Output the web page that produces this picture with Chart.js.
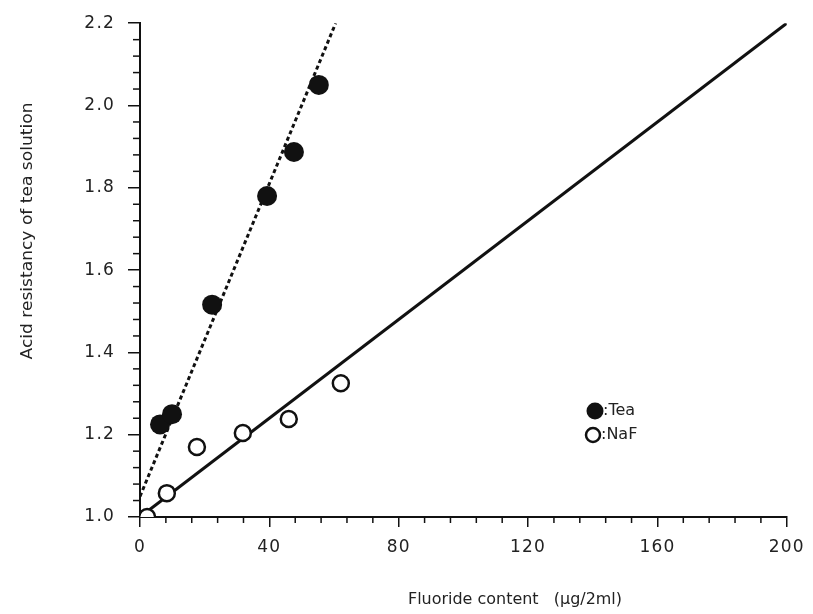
<!DOCTYPE html>
<html>
<head>
<meta charset="utf-8">
<script src="https://cdn.jsdelivr.net/npm/chart.js@4"></script>
<style>
  html, body { margin: 0; padding: 0; background: #fff; }
  #wrap { width: 813px; height: 614px; }
</style>
</head>
<body>
<div id="wrap"><canvas id="chart"></canvas></div>
<script>
// Dados
const teaX = [6.2, 9.9, 22.3, 39.3, 47.6, 55.3];
const teaY = [1.225, 1.25, 1.516, 1.78, 1.887, 2.05];
const nafX = [2.2, 8.3, 17.6, 31.8, 46.0, 62.1];
const nafY = [1.0, 1.058, 1.17, 1.204, 1.238, 1.325];

// Retas de regressão (extremos)
const teaFitX = [0, 60.5];
const teaFitY = [1.05, 2.2];
const nafFitX = [0, 200];
const nafFitY = [1.0, 2.2];

const xLabels = ["0", "40", "80", "120", "160", "200"];
const yLabels = ["1.0", "1.2", "1.4", "1.6", "1.8", "2.0", "2.2"];
const legendLabels = [":Tea", ":NaF"];

const FONT = "'DejaVu Sans', sans-serif";
const INK = "#111";
const TEXT = "#222";

function toPoints(xs, ys) {
    return xs.map((x, i) => ({ x: x, y: ys[i] }));
}

// texto esticado na horizontal até a largura pedida
function drawStretched(ctx, text, cx, cy, width) {
    const w = ctx.measureText(text).width;
    ctx.save();
    ctx.translate(cx, cy);
    ctx.scale(width / w, 1);
    ctx.fillText(text, 0, 0);
    ctx.restore();
}

// ticks menores, títulos dos eixos e legenda
const extras = {
    id: "extras",
    beforeDraw(chart) {
        chart.ctx.letterSpacing = "1.2px";
    },
    afterDraw(chart) {
        const ctx = chart.ctx;
        const xs = chart.scales.x, ys = chart.scales.y;
        const area = chart.chartArea;
        ctx.save();
        ctx.letterSpacing = "0px";
        ctx.strokeStyle = INK;
        ctx.lineWidth = 1.5;
        // minor ticks x (passo 8)
        for (let v = 0; v <= 200; v += 8) {
            if (v % 40 === 0) continue;
            const px = xs.getPixelForValue(v);
            ctx.beginPath();
            ctx.moveTo(px, area.bottom);
            ctx.lineTo(px, area.bottom + 6);
            ctx.stroke();
        }
        // minor ticks y (passo 0.04)
        for (let i = 0; i <= 30; i++) {
            if (i % 5 === 0) continue;
            const py = ys.getPixelForValue(1 + i * 0.04);
            ctx.beginPath();
            ctx.moveTo(area.left, py);
            ctx.lineTo(area.left - 7, py);
            ctx.stroke();
        }
        // títulos
        ctx.fillStyle = TEXT;
        ctx.font = "16px " + FONT;
        ctx.textAlign = "center";
        ctx.textBaseline = "middle";
        drawStretched(ctx, "Fluoride content   (\u00b5g/2ml)", 515, 600, 214);
        ctx.save();
        ctx.translate(28, 231);
        ctx.rotate(-Math.PI / 2);
        drawStretched(ctx, "Acid resistancy of tea solution", 0, 0, 257);
        ctx.restore();
        // legenda
        ctx.fillStyle = INK;
        ctx.beginPath();
        ctx.arc(595, 411, 8.5, 0, Math.PI * 2);
        ctx.fill();
        ctx.fillStyle = "#fff";
        ctx.lineWidth = 2.5;
        ctx.beginPath();
        ctx.arc(593, 435, 7, 0, Math.PI * 2);
        ctx.fill();
        ctx.stroke();
        ctx.fillStyle = TEXT;
        ctx.textAlign = "left";
        ctx.font = "16px " + FONT;
        ctx.fillText(legendLabels[0], 603, 411);
        ctx.fillText(legendLabels[1], 601, 435);
        ctx.restore();
    }
};

new Chart(document.getElementById("chart"), {
    type: "scatter",
    data: {
        datasets: [
            {
                label: "Tea fit",
                data: toPoints(teaFitX, teaFitY),
                showLine: true,
                borderColor: INK,
                borderWidth: 3,
                borderDash: [4, 3],
                pointRadius: 0,
                order: 2
            },
            {
                label: "NaF fit",
                data: toPoints(nafFitX, nafFitY),
                showLine: true,
                borderColor: INK,
                borderWidth: 3,
                pointRadius: 0,
                order: 2
            },
            {
                label: "Tea",
                data: toPoints(teaX, teaY),
                backgroundColor: INK,
                borderColor: INK,
                pointRadius: 10,
                borderWidth: 0,
                order: 0
            },
            {
                label: "NaF",
                data: toPoints(nafX, nafY),
                backgroundColor: "#fff",
                borderColor: INK,
                pointRadius: 8,
                borderWidth: 2.5,
                order: 1
            }
        ]
    },
    options: {
        responsive: true,
        maintainAspectRatio: false,
        animation: false,
        layout: { padding: { left: 50, right: 26, top: 22, bottom: 62 } },
        plugins: {
            legend: { display: false },
            tooltip: { enabled: false }
        },
        scales: {
            x: {
                type: "linear",
                min: 0,
                max: 200,
                afterFit: s => { s.height = 35; },
                ticks: {
                    stepSize: 40,
                    padding: 10,
                    color: TEXT,
                    font: { family: FONT, size: 17 },
                    callback: (v, i) => xLabels[i]
                },
                grid: { drawOnChartArea: false, tickLength: 10, color: INK, lineWidth: 1.5 },
                border: { color: INK, width: 2 }
            },
            y: {
                type: "linear",
                min: 1.0,
                max: 2.2,
                afterFit: s => { s.width = 90; },
                ticks: {
                    stepSize: 0.2,
                    padding: 13,
                    color: TEXT,
                    font: { family: FONT, size: 17 },
                    callback: (v, i) => yLabels[i]
                },
                grid: { drawOnChartArea: false, tickLength: 12, color: INK, lineWidth: 1.5 },
                border: { color: INK, width: 2 }
            }
        }
    },
    plugins: [extras]
});
</script>
</body>
</html>
